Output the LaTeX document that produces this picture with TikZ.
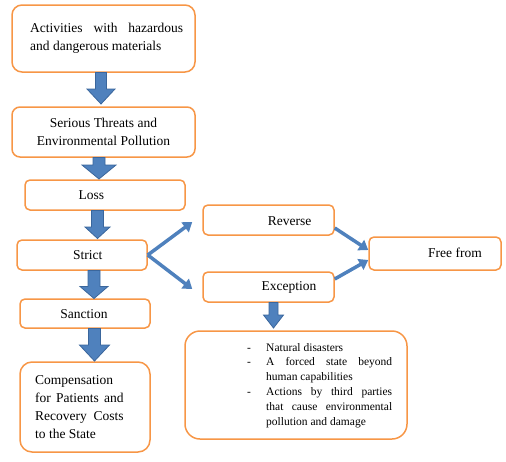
\documentclass[tikz,border=0pt]{standalone}
\usepackage{fontspec}
\setmainfont{Liberation Serif}
\usetikzlibrary{arrows.meta}
\definecolor{orng}{HTML}{F79646}
\definecolor{arrblue}{HTML}{4F81BD}
\definecolor{arrdark}{HTML}{3A669C}
\newcommand\blockarrow[6]{%
  \fill[blockarr] ({#1-#4},#2) -- ({#1+#4},#2) -- ({#1+#4},{#3-#6}) -- ({#1+#5},{#3-#6}) -- (#1,#3) -- ({#1-#5},{#3-#6}) -- ({#1-#4},{#3-#6}) -- cycle;}
\tikzset{
  box/.style={draw=orng, line width=1.5pt, fill=white, rounded corners=#1, inner sep=0pt},
  box/.default=5pt,
  txt/.style={inner sep=0pt, font=\fontsize{13.5}{18}\selectfont},
  smalltxt/.style={inner sep=0pt, font=\fontsize{11.5}{14.9}\selectfont, align=left},
  blockarr/.style={fill=arrblue, draw=arrdark, line width=0.8pt},
  thinarr/.style={draw=arrblue, line width=3.5pt, -{Triangle[length=9pt,width=12pt]}}
}
\begin{document}
\begin{tikzpicture}[x=1pt,y=-1pt]
\useasboundingbox (0,0) rectangle (506,461);
% boxes
\node[box=10pt, minimum width=183pt, minimum height=67pt] (act) at (103.5,38.5) {};
\node[box=8pt, minimum width=183pt, minimum height=50pt] (thr) at (103.5,132) {};
\node[box, minimum width=160pt, minimum height=30pt] (loss) at (105,195) {};
\node[box, minimum width=130pt, minimum height=30pt] (strict) at (82,255) {};
\node[box, minimum width=130pt, minimum height=29pt] (sanc) at (85,313.5) {};
\node[box=12pt, minimum width=130pt, minimum height=90pt] (comp) at (85,407) {};
\node[box, minimum width=131pt, minimum height=30pt] (rev) at (268.5,220) {};
\node[box, minimum width=131pt, minimum height=30pt] (exc) at (268.5,287) {};
\node[box, minimum width=132pt, minimum height=33pt] (free) at (435,253.5) {};
\node[box=15pt, minimum width=222pt, minimum height=108pt] (exlist) at (296,385) {};
% texts
\node[txt, anchor=west, align=left] (actT) at (30,38.5) {\makebox[153pt][s]{Activities with hazardous}\\and dangerous materials};
\node[txt, align=center] (thrT) at (103.5,131.5) {Serious Threats and\\Environmental Pollution};
\node[txt] (lossT) at (91.5,195) {Loss};
\node[txt] (strictT) at (87.7,255) {Strict};
\node[txt] (sancT) at (84,314) {Sanction};
\node[txt, anchor=west, align=left] (compT) at (35,407.5) {Compensation\\\makebox[88.5pt][s]{for Patients and}\\\makebox[88.5pt][s]{Recovery Costs}\\to the State};
\node[txt] (revT) at (289.7,221) {Reverse};
\node[txt] (excT) at (289,287) {Exception};
\node[txt] (freeT) at (455,253) {Free from};
\node[smalltxt, anchor=west] (listT) at (247,385.5) {%
\makebox[19pt][l]{-}\makebox[126pt][l]{Natural disasters}\\
\makebox[19pt][l]{-}\makebox[126pt][s]{A forced state beyond}\\
\makebox[19pt][l]{}\makebox[126pt][l]{human capabilities}\\
\makebox[19pt][l]{-}\makebox[126pt][s]{Actions by third parties}\\
\makebox[19pt][l]{}\makebox[126pt][s]{that cause environmental}\\
\makebox[19pt][l]{}\makebox[126pt][l]{pollution and damage}};
% block arrows
\blockarrow{101}{72.5}{104}{5.5}{14}{15}
\blockarrow{99}{157.5}{179}{6}{17}{14}
\blockarrow{97.5}{210.5}{238.5}{6}{12.5}{11.5}
\blockarrow{94}{270.5}{298.5}{6}{14}{12}
\blockarrow{94.5}{328.5}{361}{6}{15}{16}
\blockarrow{273.5}{302.5}{328}{4.5}{10}{13}
% thin arrows
\draw[thinarr] (strict.east) -- ([xshift=-10pt,yshift=-2pt]rev.west);
\draw[thinarr] (strict.east) -- ([xshift=-10pt,yshift=-2pt]exc.west);
\draw[thinarr] ([yshift=-8pt]rev.east) -- ([yshift=3.5pt]free.west);
\draw[thinarr] ([yshift=8pt]exc.east) -- ([yshift=-6.5pt]free.west);
\end{tikzpicture}
\end{document}
